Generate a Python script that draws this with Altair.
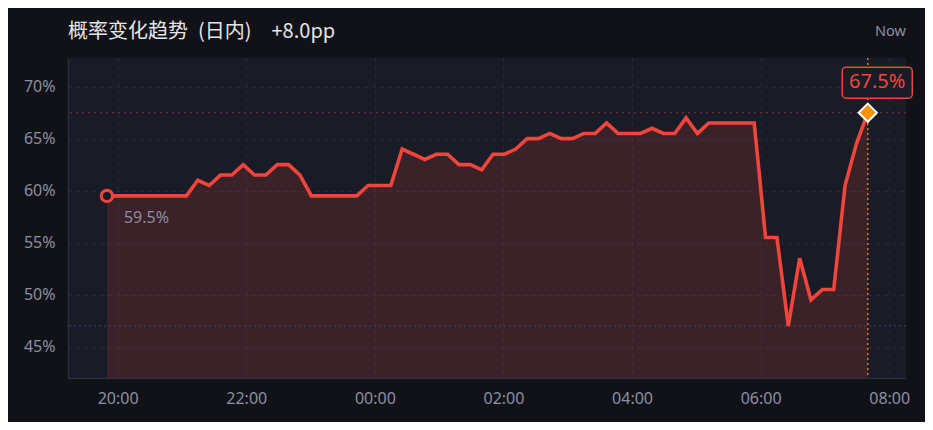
import altair as alt
import pandas as pd

# ---- data ----
START_TIME = "2024-01-01 19:50"
END_TIME = "2024-01-02 07:40"
probability = [
    59.5, 59.5, 59.5, 59.5, 59.5, 59.5, 59.5, 59.5,
    61.0, 60.5, 61.5, 61.5, 62.5, 61.5, 61.5, 62.5, 62.5, 61.5,
    59.5, 59.5, 59.5, 59.5, 59.5, 60.5, 60.5, 60.5,
    64.0, 63.5, 63.0, 63.5, 63.5, 62.5, 62.5, 62.0,
    63.5, 63.5, 64.0, 65.0, 65.0, 65.5, 65.0, 65.0, 65.5, 65.5,
    66.5, 65.5, 65.5, 65.5, 66.0, 65.5, 65.5, 67.0, 65.5,
    66.5, 66.5, 66.5, 66.5, 66.5,
    55.5, 55.5, 47.0, 53.5, 49.5, 50.5, 50.5, 60.5, 64.5, 67.5,
]
y_ticks = [45, 50, 55, 60, 65, 70]
x_tick_hours = [(1, 20), (1, 22), (2, 0), (2, 2), (2, 4), (2, 6), (2, 8)]
title_text = "概率变化趋势\u2002(日内)\u2003+8.0pp"
now_text = "Now"

times = pd.date_range(START_TIME, END_TIME, periods=len(probability))
df = pd.DataFrame({"time": times, "value": probability})
first = df.iloc[[0]].copy()
last = df.iloc[[-1]].copy()
first["label"] = [f"{v:.1f}%" for v in first["value"]]
last["label"] = [f"{v:.1f}%" for v in last["value"]]
min_df = df.loc[[df["value"].idxmin()]]

Y_MIN, Y_MAX = 42, 72.75
x_domain = [
    alt.DateTime(year=2024, month=1, date=1, hours=19, minutes=13, seconds=40),
    alt.DateTime(year=2024, month=1, date=2, hours=8, minutes=15, seconds=40),
]
x_values = [alt.DateTime(year=2024, month=1, date=d, hours=h, minutes=0) for d, h in x_tick_hours]

BG = "#111217"
PLOT_BG = "#191b26"
RED = "#f0453a"
GREY = "#8b8fa3"
GRID = "#262938"

x_enc = alt.X(
    "time:T",
    scale=alt.Scale(domain=x_domain, nice=False),
    axis=alt.Axis(values=x_values, format="%H:%M", title=None, grid=True,
                  gridColor=GRID, gridDash=[4, 4], ticks=False,
                  labelPadding=12, domainColor="#2b2e3e", domainWidth=1.5),
)
y_enc = alt.Y(
    "value:Q",
    scale=alt.Scale(domain=[Y_MIN, Y_MAX], nice=False, zero=False),
    axis=alt.Axis(values=y_ticks, labelExpr="datum.value + '%'", title=None,
                  grid=True, gridColor=GRID, gridDash=[4, 4], ticks=False,
                  labelPadding=13, domainColor="#2b2e3e", domainWidth=1.5),
)

base = alt.Chart(df)

area = base.mark_area(color=RED, opacity=0.16).encode(
    x=x_enc, y=y_enc, y2=alt.datum(Y_MIN)
)
line = base.mark_line(color=RED, strokeWidth=3.6, strokeJoin="miter").encode(
    x="time:T", y="value:Q"
)

cur_rule = alt.Chart(last).mark_rule(
    color=RED, opacity=0.4, strokeDash=[2, 4], strokeWidth=1.2
).encode(y="value:Q")
min_rule = alt.Chart(min_df).mark_rule(
    color="#3c4a8c", opacity=0.7, strokeDash=[2, 3], strokeWidth=1.2
).encode(y="value:Q")
now_rule = alt.Chart(last).mark_rule(
    color="#d9820f", strokeDash=[2, 3], strokeWidth=1.5
).encode(x="time:T")

start_pt = alt.Chart(first).mark_point(
    shape="circle", size=125, filled=True, fill=PLOT_BG, stroke=RED,
    strokeWidth=3.2, opacity=1
).encode(x="time:T", y="value:Q")
start_lbl = alt.Chart(first).mark_text(
    align="left", baseline="alphabetic", dx=17, dy=27, fontSize=16,
    font="Noto Sans", color=GREY
).encode(x="time:T", y="value:Q", text="label:N")

box = alt.Chart(last).mark_rect(
    width=70, height=31, cornerRadius=4, fill=PLOT_BG, stroke=RED,
    strokeWidth=1.5, xOffset=9.5, yOffset=-30
).encode(x="time:T", y="value:Q")
end_lbl = alt.Chart(last).mark_text(
    align="center", baseline="middle", dx=9.5, dy=-31, fontSize=20,
    font="Noto Sans", color=RED
).encode(x="time:T", y="value:Q", text="label:N")
end_pt = alt.Chart(last).mark_point(
    shape="diamond", size=330, filled=True, fill="#f7920f", stroke="#ffffff",
    strokeWidth=2, opacity=1
).encode(x="time:T", y="value:Q")

now_lbl = alt.Chart(last).mark_text(
    align="right", baseline="alphabetic", fontSize=14.5, font="Noto Sans", color=GREY
).encode(x=alt.value(838), y=alt.value(-22), text=alt.value(now_text))

title_lbl = alt.Chart(last).mark_text(
    align="left", baseline="alphabetic", fontSize=20,
    font="Noto Sans CJK SC", color="#e4e5ea"
).encode(x=alt.value(0), y=alt.value(-20), text=alt.value(title_text))

chart = alt.layer(
    area, cur_rule, min_rule, now_rule, line, start_pt, start_lbl, box, end_lbl, end_pt,
    now_lbl, title_lbl
).properties(
    width=838,
    height=320,
    background=BG,
    padding={"left": 60, "top": 50, "right": 19, "bottom": 44},
    autosize=alt.AutoSizeParams(type="none"),
).configure_view(
    fill=PLOT_BG, stroke=None
).configure_axis(
    labelFont="Noto Sans", labelFontSize=16, labelColor=GREY
)

chart.save("out.html", embed_options={"renderer": "svg", "actions": False})
